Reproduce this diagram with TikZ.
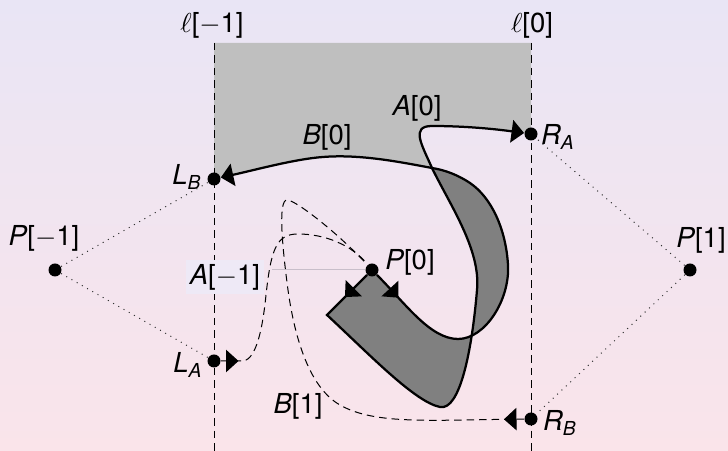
\documentclass[tikz,border=0pt]{standalone}
\usepackage{fontspec}
\setmainfont{TeX Gyre Heros}
\usetikzlibrary{arrows.meta,decorations.markings}
\definecolor{bgtop}{RGB}{233,229,245}
\definecolor{bgbot}{RGB}{250,228,234}
\definecolor{labbg}{RGB}{238,233,246}
\definecolor{pinline}{RGB}{200,190,202}
\tikzset{
  mytip/.tip={Triangle[width=9pt,length=5pt]},
  dot/.style={circle,fill=black,inner sep=0pt,minimum size=5.2pt},
  lab/.style={font=\fontsize{11}{13}\selectfont,inner sep=0pt},
  vline/.style={draw=black,line width=0.4pt,dash pattern=on 3pt off 2pt},
  curve/.style={draw=black,line width=0.9pt},
  dcurve/.style={draw=black,line width=0.4pt,dash pattern=on 3pt off 2pt},
  dotline/.style={draw=black!80,line width=0.4pt,dotted},
  startarrow/.style={postaction={decorate,decoration={markings,mark=at position #1 with {\arrow{mytip}}}}},
}
\begin{document}
\begin{tikzpicture}[x=0.4pt,y=-0.4pt]
\useasboundingbox (0,0) rectangle (728,451);
\shade[top color=bgtop,bottom color=bgbot] (0,0) rectangle (728,451);

% light gray region
\fill[black!25] (214,179) -- (214,43) -- (531,43) -- (531,134)
  .. controls (495,129) and (465,126) .. (432,126)
  .. controls (410,126) and (422,145) .. (432,168)
  .. controls (400,162) and (360,154) .. (323,157)
  .. controls (295,159) and (255,170) .. (214,179) -- cycle;

% dark gray region
\fill[black!50] (372,270) -- (327,315)
  .. controls (370,355) and (415,402) .. (440,407)
  .. controls (460,411) and (472,350) .. (477,290)
  .. controls (481,250) and (450,205) .. (432,168)
  .. controls (445,170) and (458,175) .. (470,183)
  .. controls (492,198) and (506,230) .. (508,265)
  .. controls (510,300) and (485,339) .. (458,339)
  .. controls (430,339) and (405,303) .. (372,270) -- cycle;

% vertical lines
\coordinate (l1t) at (214,43); \coordinate (l1b) at (214,451);
\coordinate (l2t) at (531,43); \coordinate (l2b) at (531,451);
\draw[vline] (l1t) -- (l1b);
\draw[vline] (l2t) -- (l2b);

% points
\node[dot] (P0) at (372,270) {};
\node[dot] (Pm1) at (55,270) {};
\node[dot] (P1) at (690,270) {};
\node[dot] (LB) at (214,179) {};
\node[dot] (LA) at (214,361) {};
\node[dot] (RA) at (531,134) {};
\node[dot] (RB) at (531,419) {};

% dotted lines
\draw[dotline] (Pm1) -- (LB);
\draw[dotline] (Pm1) -- (LA);
\draw[dotline] (P1) -- (RA);
\draw[dotline] (P1) -- (RB);

% A[-1] label with pin line
\node[lab,fill=labbg,inner sep=1.6pt] (lAm1) at (225,277) {\textit{A}[$-$1]};
\coordinate (am1e) at (272,270);
\draw[pinline,line width=0.4pt] (am1e) -- (P0);

% A[0]
\draw[curve,startarrow=12.5pt,-{mytip}] (P0) -- (327,315)
  .. controls (370,355) and (415,402) .. (440,407)
  .. controls (460,411) and (472,350) .. (477,290)
  .. controls (481,250) and (450,205) .. (432,168)
  .. controls (422,145) and (410,126) .. (432,126)
  .. controls (465,126) and (495,129) .. (RA);

% B[0]
\draw[curve,startarrow=12.5pt,-{mytip}] (P0)
  .. controls (405,303) and (430,339) .. (458,339)
  .. controls (485,339) and (510,300) .. (508,265)
  .. controls (506,230) and (492,198) .. (470,183)
  .. controls (458,175) and (445,170) .. (432,168)
  .. controls (400,162) and (360,154) .. (323,157)
  .. controls (295,159) and (255,170) .. (LB);

% dashed curves
\draw[dcurve,startarrow=7pt] (LA) -- (244,361)
  .. controls (255,358) and (262,335) .. (266,295)
  .. controls (271,250) and (276,234) .. (298,234)
  .. controls (325,234) and (352,245) .. (P0);
\draw[dcurve,startarrow=8pt] (RB)
  .. controls (430,420) and (375,425) .. (340,405)
  .. controls (310,388) and (295,340) .. (288,290)
  .. controls (282,245) and (278,200) .. (287,200)
  .. controls (296,200) and (340,235) .. (P0);

% labels
\node[lab] (tlm1) at (212,25) {$\ell$[$-$1]};
\node[lab] (tl0) at (532,25) {$\ell$[0]};
\node[lab] (tA0) at (417,108) {\textit{A}[0]};
\node[lab] (tB0) at (327,137) {\textit{B}[0]};
\node[lab] (tP0) at (410,262) {\textit{P}[0]};
\node[lab] (tPm1) at (44,238) {\textit{P}[$-$1]};
\node[lab] (tP1) at (701,240) {\textit{P}[1]};
\node[lab] (tB1) at (298,406) {\textit{B}[1]};
\node[lab] (tLB) at (187,177) {\textit{L}\textsubscript{\textit{B}}};
\node[lab] (tLA) at (188,365) {\textit{L}\textsubscript{\textit{A}}};
\node[lab] (tRA) at (558,137) {\textit{R}\textsubscript{\textit{A}}};
\node[lab] (tRB) at (560,423) {\textit{R}\textsubscript{\textit{B}}};
\end{tikzpicture}
\end{document}
